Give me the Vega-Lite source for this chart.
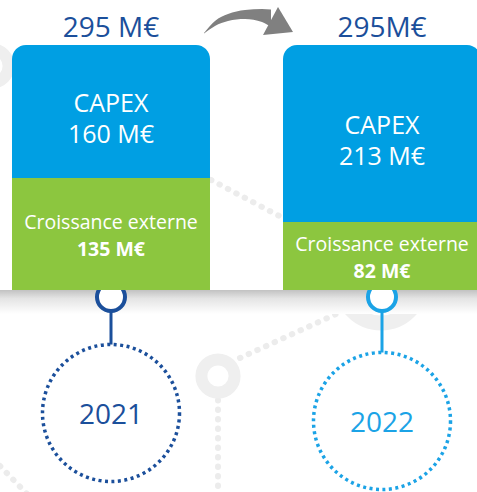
{
  "$schema": "https://vega.github.io/schema/vega-lite/v6.json",
  "width": 477,
  "height": 492,
  "padding": 0,
  "autosize": {"type": "none"},
  "background": "#ffffff",
  "config": {"view": {"stroke": null}, "font": "Open Sans"},
  "datasets": {
    "bars": [
      {"year": "2021", "capex": 160, "ext": 135, "total": 295, "totalLabel": "295 M€", "capexText": ["CAPEX", "160 M€"], "extLabel": "135 M€"},
      {"year": "2022", "capex": 213, "ext": 82, "total": 295, "totalLabel": "295M€", "capexText": ["CAPEX", "213 M€"], "extLabel": "82 M€"}
    ],
    "timeline": [
      {"year": "2021", "ring": -8.4, "circle": -148.1},
      {"year": "2022", "ring": -8.4, "circle": -157.7}
    ],
    "dots": [
      {"id": "a", "px": 211, "py": 180}, {"id": "a", "px": 283, "py": 218},
      {"id": "b", "px": 240, "py": 358}, {"id": "b", "px": 345, "py": 310},
      {"id": "c", "px": 218, "py": 400}, {"id": "c", "px": 218, "py": 495},
      {"id": "d", "px": 0, "py": 466}, {"id": "d", "px": 28, "py": 495}
    ],
    "shaft": [
      {"px": 204, "top": 33, "bot": 33.5},
      {"px": 215, "top": 21, "bot": 26},
      {"px": 228, "top": 14, "bot": 21},
      {"px": 245, "top": 10, "bot": 19},
      {"px": 262, "top": 9, "bot": 22},
      {"px": 271, "top": 9.5, "bot": 27}
    ],
    "head": [
      {"px": 263, "top": 35, "bot": 35},
      {"px": 278, "top": 7, "bot": 33.5},
      {"px": 293, "top": 32, "bot": 32}
    ]
  },
  "layer": [
    {
      "encoding": {
        "x": {"field": "px", "type": "quantitative", "axis": null, "scale": {"domain": [0, 477], "nice": false, "zero": false}},
        "y": {"field": "py", "type": "quantitative", "axis": null, "scale": {"domain": [0, 492], "reverse": true, "nice": false, "zero": false}}
      },
      "layer": [
        {
          "data": {"name": "dots"},
          "mark": {"type": "line", "color": "#ececec", "strokeWidth": 6, "strokeCap": "round", "strokeDash": [0.5, 9]},
          "encoding": {"detail": {"field": "id"}}
        },
        {
          "data": {"values": [{"px": 218, "py": 376}, {"px": -8, "py": 66}]},
          "mark": {"type": "point", "shape": "circle", "size": 1100, "strokeWidth": 12, "stroke": "#efefef", "fill": "#ffffff", "fillOpacity": 1, "opacity": 1},
          "encoding": {}
        },
        {
          "data": {"values": [{"px": 381, "py": 283}]},
          "mark": {"type": "point", "shape": "circle", "size": 6400, "strokeWidth": 15, "stroke": "#efefef", "fill": "#ffffff", "fillOpacity": 1, "opacity": 1},
          "encoding": {}
        },
        {
          "data": {"values": [{"x1": 0, "x2": 477, "y1": 290, "y2": 314}]},
          "mark": {"type": "rect", "color": {"gradient": "linear", "x1": 0, "y1": 0, "x2": 0, "y2": 1, "stops": [{"offset": 0, "color": "#c2c2c2"}, {"offset": 0.35, "color": "#e4e4e4"}, {"offset": 1, "color": "#ffffff"}]}},
          "encoding": {
            "x": {"field": "x1", "type": "quantitative"},
            "x2": {"field": "x2"},
            "y": {"field": "y1", "type": "quantitative"},
            "y2": {"field": "y2"}
          }
        },
        {
          "data": {"name": "shaft"},
          "mark": {"type": "area", "color": "#808080", "interpolate": "monotone"},
          "encoding": {"y": {"field": "top", "type": "quantitative"}, "y2": {"field": "bot"}}
        },
        {
          "data": {"name": "head"},
          "mark": {"type": "area", "color": "#808080", "interpolate": "linear"},
          "encoding": {"y": {"field": "top", "type": "quantitative"}, "y2": {"field": "bot"}}
        }
      ]
    },
    {
      "encoding": {
        "x": {"field": "year", "type": "nominal", "axis": null, "scale": {"domain": ["2021", "2022"], "range": [12, 481], "paddingInner": 0.2694, "paddingOuter": 0}}
      },
      "layer": [
        {
          "data": {"name": "timeline"},
          "mark": {"type": "rule", "strokeWidth": 3},
          "encoding": {
            "y": {"field": "ring", "type": "quantitative", "axis": null, "scale": {"domain": [-243.2, 349.2], "nice": false, "zero": false}},
            "y2": {"field": "circle"},
            "stroke": {"field": "year", "type": "nominal", "legend": null, "scale": {"domain": ["2021", "2022"], "range": ["#1b4f9b", "#1ba3e6"]}}
          }
        },
        {
          "data": {"name": "timeline"},
          "mark": {"type": "point", "shape": "circle", "size": 784, "strokeWidth": 4, "fill": "#ffffff", "fillOpacity": 1, "opacity": 1},
          "encoding": {
            "y": {"field": "ring", "type": "quantitative"},
            "stroke": {"field": "year", "type": "nominal", "legend": null}
          }
        },
        {
          "data": {"name": "timeline"},
          "mark": {"type": "point", "shape": "circle", "size": 18769, "strokeWidth": 3.5, "strokeDash": [3, 3.5], "fill": "#ffffff", "fillOpacity": 1, "opacity": 1},
          "encoding": {
            "y": {"field": "circle", "type": "quantitative"},
            "stroke": {"field": "year", "type": "nominal", "legend": null}
          }
        },
        {
          "data": {"name": "timeline"},
          "mark": {"type": "text", "fontSize": 28, "dy": 3, "baseline": "middle", "align": "center"},
          "encoding": {
            "y": {"field": "circle", "type": "quantitative"},
            "text": {"field": "year"},
            "color": {"field": "year", "type": "nominal", "legend": null, "scale": {"domain": ["2021", "2022"], "range": ["#1b4f9b", "#1ba3e6"]}}
          }
        },
        {
          "data": {"name": "bars"},
          "mark": {"type": "bar", "color": "#8cc63f"},
          "encoding": {
            "y": {"field": "ext", "type": "quantitative", "stack": null},
            "y2": {"datum": 0}
          }
        },
        {
          "data": {"name": "bars"},
          "mark": {"type": "bar", "color": "#009fe3", "cornerRadiusTopLeft": 14, "cornerRadiusTopRight": 14},
          "encoding": {
            "y": {"field": "total", "type": "quantitative", "stack": null},
            "y2": {"field": "ext"}
          }
        },
        {
          "data": {"name": "bars"},
          "transform": [
            {"calculate": "(datum.ext + datum.total) / 2", "as": "capexMid"},
            {"calculate": "datum.ext / 2", "as": "extMid"}
          ],
          "layer": [
            {
              "mark": {"type": "text", "fontSize": 25, "lineHeight": 31, "color": "#ffffff", "dy": -7, "baseline": "middle"},
              "encoding": {"y": {"field": "capexMid", "type": "quantitative"}, "text": {"field": "capexText"}}
            },
            {
              "mark": {"type": "text", "text": "Croissance externe", "fontSize": 19.5, "color": "#ffffff", "dy": -11, "baseline": "middle"},
              "encoding": {"y": {"field": "extMid", "type": "quantitative"}}
            },
            {
              "mark": {"type": "text", "fontSize": 19.5, "fontWeight": "bold", "color": "#ffffff", "dy": 16, "baseline": "middle"},
              "encoding": {"y": {"field": "extMid", "type": "quantitative"}, "text": {"field": "extLabel"}}
            },
            {
              "mark": {"type": "text", "fontSize": 28, "color": "#1b4f9b", "dy": -16, "baseline": "middle"},
              "encoding": {"y": {"field": "total", "type": "quantitative"}, "text": {"field": "totalLabel"}}
            }
          ]
        }
      ]
    }
  ],
  "resolve": {"scale": {"x": "independent", "y": "independent"}}
}
